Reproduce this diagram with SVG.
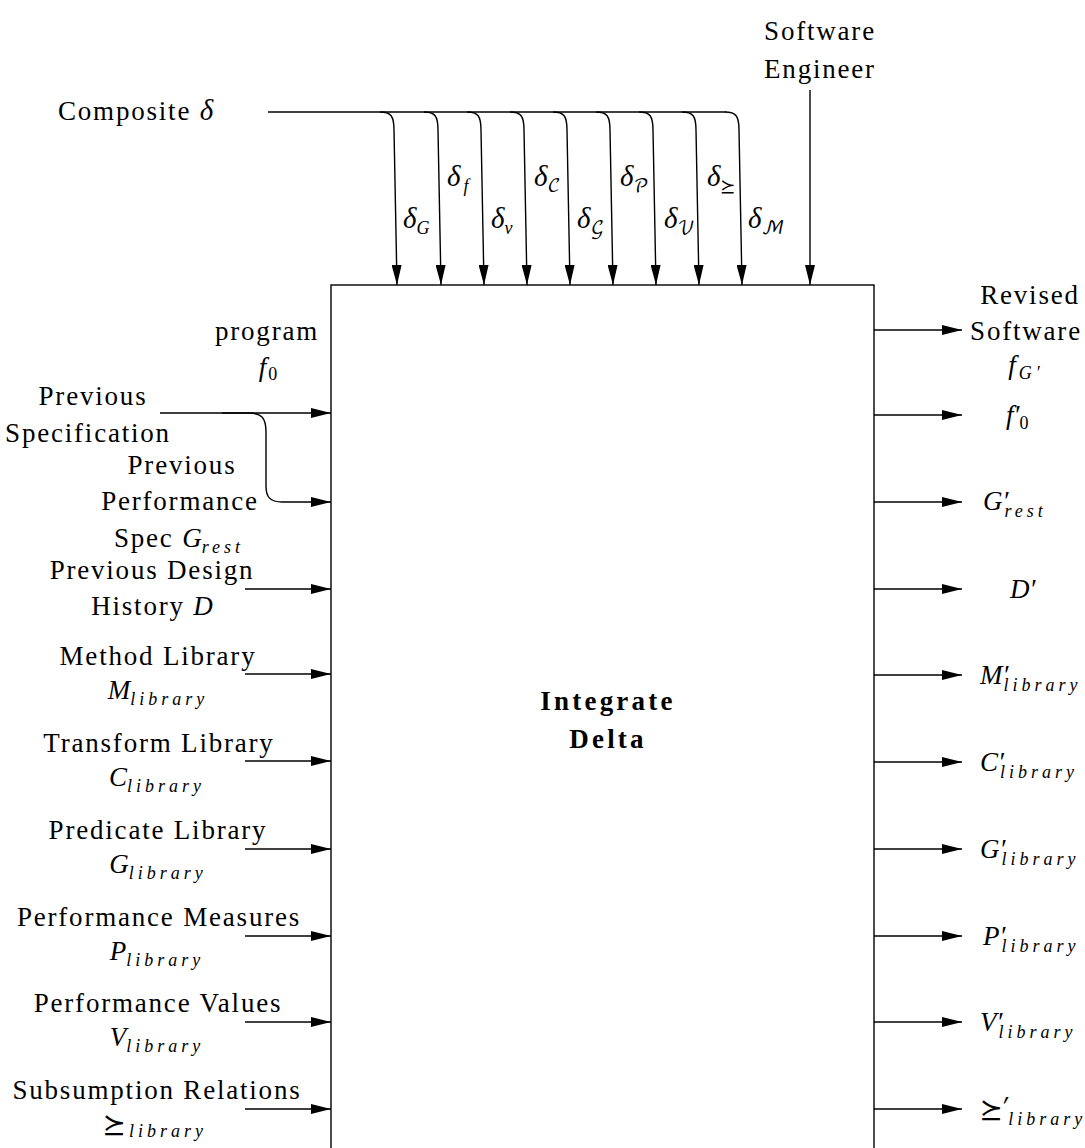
<svg xmlns="http://www.w3.org/2000/svg" width="1085" height="1148" viewBox="0 0 1085 1148">
<defs>
<marker id="ah" markerUnits="userSpaceOnUse" markerWidth="20" markerHeight="10" refX="20" refY="5" orient="auto">
<path d="M0,0 L20,5 L0,10 z" fill="#000"/>
</marker>
<style>
.t{font-family:"Liberation Serif","DejaVu Serif",serif;font-size:27px;letter-spacing:1.8px;fill:#000}
.it{font-style:italic;letter-spacing:0}
.sb{font-size:18px;font-style:italic;letter-spacing:4px}
.sr{font-size:18px;font-style:normal;letter-spacing:0}
.sc{font-size:18px;font-style:normal;letter-spacing:0;font-family:"DejaVu Math TeX Gyre","DejaVu Serif","DejaVu Sans",serif}
.m{font-style:normal;letter-spacing:0;font-family:"DejaVu Math TeX Gyre","DejaVu Sans",serif}
.b{font-weight:bold;letter-spacing:3.2px}
.ln{fill:none;stroke:#000;stroke-width:1.4}
.arr{fill:none;stroke:#000;stroke-width:1.4;marker-end:url(#ah)}
</style>
</defs>
<rect width="1085" height="1148" fill="#fff"/>

<g id="process">
<rect x="331" y="285" width="543" height="900" fill="none" stroke="#000" stroke-width="1.4"/>
<text class="t b" x="608" y="710" text-anchor="middle">Integrate</text>
<text class="t b" x="608" y="748" text-anchor="middle">Delta</text>
</g>

<g id="connectors">
<path class="ln" d="M268,112 L726,112"/>
<path class="arr" d="M380,112 C391,112 394,116 394,130 L397,285"/>
<path class="arr" d="M424,112 C435,112 438,116 438,130 L441,285"/>
<path class="arr" d="M467,112 C478,112 481,116 481,130 L484,285"/>
<path class="arr" d="M510,112 C521,112 524,116 524,130 L527,285"/>
<path class="arr" d="M553,112 C564,112 567,116 567,130 L570,285"/>
<path class="arr" d="M596,112 C607,112 610,116 610,130 L613,285"/>
<path class="arr" d="M639,112 C650,112 653,116 653,130 L656,285"/>
<path class="arr" d="M682,112 C693,112 696,116 696,130 L699,285"/>
<path class="arr" d="M725,112 C736,112 739,116 739,130 L742,285"/>
<path class="arr" d="M810,90 L810,285"/>

<path class="arr" d="M160,413 L331,413"/>
<path class="arr" d="M222,413 L248,413 C262,413 266,418 266,432 L266,486 C266,497 270,502 282,502 L331,502"/>
<path class="arr" d="M245,589 L331,589"/>
<path class="arr" d="M245,674 L331,674"/>
<path class="arr" d="M245,761 L331,761"/>
<path class="arr" d="M245,849 L331,849"/>
<path class="arr" d="M245,936 L331,936"/>
<path class="arr" d="M245,1022 L331,1022"/>
<path class="arr" d="M245,1109 L331,1109"/>

<path class="arr" d="M874,330 L962,330"/>
<path class="arr" d="M874,415 L962,415"/>
<path class="arr" d="M874,502 L962,502"/>
<path class="arr" d="M874,589 L962,589"/>
<path class="arr" d="M874,675 L962,675"/>
<path class="arr" d="M874,762 L962,762"/>
<path class="arr" d="M874,849 L962,849"/>
<path class="arr" d="M874,936 L962,936"/>
<path class="arr" d="M874,1022 L962,1022"/>
<path class="arr" d="M874,1109 L962,1109"/>
</g>

<g id="composite">
<text class="t" x="58" y="120">Composite <tspan class="it" font-size="29">δ</tspan></text>
</g>
<g id="engineer">
<text class="t" x="820" y="40" text-anchor="middle">Software</text>
<text class="t" x="820" y="78" text-anchor="middle">Engineer</text>
</g>

<g id="delta-labels">
<text class="t" x="403" y="228"><tspan class="it" font-size="29">δ</tspan><tspan class="sb" dy="6" letter-spacing="0">G</tspan></text>
<text class="t" x="447" y="186"><tspan class="it" font-size="29">δ</tspan><tspan class="sb" dy="6" dx="3">f</tspan></text>
<text class="t" x="491" y="228"><tspan class="it" font-size="29">δ</tspan><tspan class="sb" dy="6">v</tspan></text>
<text class="t" x="534" y="186"><tspan class="it" font-size="29">δ</tspan><tspan class="sc" dy="6">𝒞</tspan></text>
<text class="t" x="577" y="228"><tspan class="it" font-size="29">δ</tspan><tspan class="sc" dy="6">𝒢</tspan></text>
<text class="t" x="620" y="186"><tspan class="it" font-size="29">δ</tspan><tspan class="sc" dy="6">𝒫</tspan></text>
<text class="t" x="664" y="228"><tspan class="it" font-size="29">δ</tspan><tspan class="sc" dy="6">𝒱</tspan></text>
<text class="t" x="707" y="186"><tspan class="it" font-size="29">δ</tspan><tspan class="sc" dy="6">⪰</tspan></text>
<text class="t" x="748" y="228"><tspan class="it" font-size="29">δ</tspan><tspan class="sc" dy="6">ℳ</tspan></text>
</g>

<g id="in-program">
<text class="t" x="267" y="340" text-anchor="middle">program</text>
<text class="t" x="268" y="376" text-anchor="middle"><tspan class="it">f</tspan><tspan class="sr" dy="4" dx="2">0</tspan></text>
</g>
<g id="in-spec">
<text class="t" x="93" y="405" text-anchor="middle">Previous</text>
<text class="t" x="88" y="442" text-anchor="middle">Specification</text>
</g>
<g id="in-perf-spec">
<text class="t" x="182" y="474" text-anchor="middle">Previous</text>
<text class="t" x="180" y="510" text-anchor="middle">Performance</text>
<text class="t" x="179" y="547" text-anchor="middle">Spec <tspan class="it">G</tspan><tspan class="sb" dy="6">rest</tspan></text>
</g>
<g id="in-design">
<text class="t" x="152" y="579" text-anchor="middle">Previous Design</text>
<text class="t" x="152" y="615" text-anchor="middle">History <tspan class="it">D</tspan></text>
</g>
<g id="in-method">
<text class="t" x="158" y="665" text-anchor="middle">Method Library</text>
<text class="t" x="158" y="699" text-anchor="middle"><tspan class="it">M</tspan><tspan class="sb" dy="6">library</tspan></text>
</g>
<g id="in-transform">
<text class="t" x="159" y="752" text-anchor="middle">Transform Library</text>
<text class="t" x="157" y="786" text-anchor="middle"><tspan class="it">C</tspan><tspan class="sb" dy="6">library</tspan></text>
</g>
<g id="in-predicate">
<text class="t" x="158" y="839" text-anchor="middle">Predicate Library</text>
<text class="t" x="158" y="873" text-anchor="middle"><tspan class="it">G</tspan><tspan class="sb" dy="6">library</tspan></text>
</g>
<g id="in-measures">
<text class="t" x="159" y="926" text-anchor="middle">Performance Measures</text>
<text class="t" x="157" y="960" text-anchor="middle"><tspan class="it">P</tspan><tspan class="sb" dy="6">library</tspan></text>
</g>
<g id="in-values">
<text class="t" x="158" y="1012" text-anchor="middle">Performance Values</text>
<text class="t" x="157" y="1046" text-anchor="middle"><tspan class="it">V</tspan><tspan class="sb" dy="6">library</tspan></text>
</g>
<g id="in-subsumption">
<text class="t" x="157" y="1099" text-anchor="middle">Subsumption Relations</text>
<text class="t" x="155" y="1133" text-anchor="middle"><tspan class="m">⪰</tspan><tspan class="sb" dy="4" dx="4">library</tspan></text>
</g>

<g id="out-software">
<text class="t" x="1030" y="304" text-anchor="middle">Revised</text>
<text class="t" x="1026" y="340" text-anchor="middle">Software</text>
<text class="t" x="1026" y="374" text-anchor="middle"><tspan class="it">f</tspan><tspan class="sb" dy="5" dx="3" letter-spacing="0">G′</tspan></text>
</g>
<g id="out-f0"><text class="t" x="1006" y="424"><tspan class="it">f′</tspan><tspan class="sr" dy="5">0</tspan></text></g>
<g id="out-grest"><text class="t" x="983" y="510"><tspan class="it">G′</tspan><tspan class="sb" dy="7" dx="-4">rest</tspan></text></g>
<g id="out-d"><text class="t" x="1010" y="598"><tspan class="it">D′</tspan></text></g>
<g id="out-m"><text class="t" x="980" y="684"><tspan class="it">M′</tspan><tspan class="sb" dy="7" dx="-5">library</tspan></text></g>
<g id="out-c"><text class="t" x="980" y="771"><tspan class="it">C′</tspan><tspan class="sb" dy="7" dx="-4">library</tspan></text></g>
<g id="out-g"><text class="t" x="980" y="858"><tspan class="it">G′</tspan><tspan class="sb" dy="7" dx="-4">library</tspan></text></g>
<g id="out-p"><text class="t" x="983" y="945"><tspan class="it">P′</tspan><tspan class="sb" dy="7" dx="-4">library</tspan></text></g>
<g id="out-v"><text class="t" x="980" y="1031"><tspan class="it">V′</tspan><tspan class="sb" dy="7" dx="-4">library</tspan></text></g>
<g id="out-s"><text class="t" x="980" y="1118"><tspan class="m">⪰′</tspan><tspan class="sb" dy="7" dx="-2">library</tspan></text></g>
</svg>
